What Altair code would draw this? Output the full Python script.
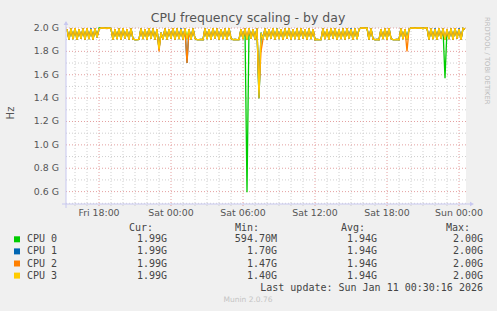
import altair as alt
import pandas as pd

# ---------------- data (MHz, 10-minute samples starting Fri 15:20) ----------------
start_hour = 15 + 20 / 60      # hours since Fri 00:00
step_hours = 10 / 60

cpu3 = [
    1990, 1900, 1996, 1904, 2000, 1900, 1990, 1910, 1996, 1900,
    2000, 1904, 1990, 1900, 1996, 1920, 1990, 2000, 2000, 1998,
    2000, 2000, 1996, 1900, 1990, 1904, 1996, 1900, 2000, 1910,
    1990, 1900, 1996, 1904, 1900, 1900, 1902, 1996, 1904, 1990,
    1900, 2000, 1910, 1996, 1900, 1990, 1820, 1960, 1904, 1996,
    1900, 1990, 1910, 2000, 1900, 1996, 1904, 1990, 1900, 1996,
    1904, 1990, 1900, 1996, 1910, 1900, 1900, 1902, 1900, 1996,
    1904, 1990, 1900, 2000, 1910, 1996, 1900, 1990, 1904, 1996,
    1900, 2000, 1910, 1900, 1902, 1900, 1900, 1990, 1904, 1996,
    1900, 2000, 1910, 1990, 1900, 1996, 1400, 1960, 1904, 1996,
    1900, 1990, 1910, 2000, 1900, 1996, 1904, 1990, 1900, 1996,
    1910, 2000, 1900, 1990, 1904, 1996, 1900, 2000, 1910, 1990,
    1900, 1996, 1904, 1990, 1900, 1902, 1900, 1900, 1996, 1904,
    1990, 1900, 2000, 1910, 1996, 1900, 1990, 1904, 1996, 1900,
    2000, 1910, 1990, 1900, 1996, 1904, 1990, 2000, 2000, 1998,
    2000, 1900, 1996, 1904, 1900, 1902, 1900, 1990, 1904, 1996,
    1900, 2000, 1910, 1900, 1900, 1902, 1900, 1996, 1904, 1990,
    1900, 1990, 2000, 2000, 1998, 2000, 2000, 2000, 1996, 2000,
    2000, 1900, 1996, 1904, 1990, 1900, 2000, 1910, 1996, 1900,
    1990, 1904, 1996, 1900, 2000, 1910, 1990, 1900, 1996, 1990,
]
cpu2 = [
    1990, 1900, 1996, 1904, 2000, 1900, 1990, 1910, 1996, 1900,
    2000, 1904, 1990, 1900, 1996, 1920, 1990, 2000, 2000, 1998,
    1996, 2000, 1996, 1900, 1990, 1904, 1996, 1900, 2000, 1910,
    1990, 1900, 1996, 1904, 1900, 1900, 1902, 1996, 1904, 1990,
    1900, 2000, 1910, 1996, 1900, 1990, 1800, 1960, 1904, 1996,
    1900, 1990, 1910, 2000, 1900, 1996, 1904, 1990, 1900, 1996,
    1700, 1990, 1900, 1996, 1910, 1900, 1900, 1902, 1900, 1996,
    1904, 1990, 1900, 2000, 1910, 1996, 1900, 1990, 1904, 1996,
    1900, 2000, 1910, 1900, 1902, 1900, 1900, 1990, 1904, 1996,
    1900, 2000, 1910, 1990, 1900, 1996, 1470, 1800, 1904, 1996,
    1900, 1990, 1910, 2000, 1900, 1990, 1904, 1990, 1900, 1996,
    1910, 2000, 1900, 1990, 1904, 1996, 1900, 2000, 1910, 1990,
    1900, 1996, 1904, 1990, 1900, 1902, 1900, 1900, 1996, 1904,
    1990, 1900, 2000, 1910, 1996, 1900, 1990, 1904, 1996, 1900,
    2000, 1910, 1990, 1900, 1996, 1904, 1990, 2000, 2000, 1998,
    2000, 1900, 1996, 1904, 1900, 1902, 1900, 1990, 1904, 1996,
    1900, 2000, 1910, 1900, 1900, 1902, 1900, 1996, 1904, 1990,
    1800, 1990, 2000, 2000, 1998, 2000, 2000, 2000, 1996, 2000,
    2000, 1900, 1996, 1904, 1990, 1900, 2000, 1910, 1996, 1900,
    1990, 1904, 1996, 1900, 2000, 1910, 1990, 1900, 1996, 1990,
]
cpu1 = [
    1990, 1900, 1996, 1904, 2000, 1900, 1990, 1910, 1996, 1900,
    2000, 1904, 2000, 1900, 1996, 1920, 1990, 2000, 2000, 1998,
    2000, 2000, 1996, 1900, 1990, 1904, 1996, 1900, 2000, 1910,
    1990, 1900, 1996, 1904, 1900, 1900, 1902, 1996, 1904, 1990,
    1900, 2000, 1910, 1996, 1900, 1990, 1820, 1960, 1904, 1996,
    1900, 1990, 1910, 2000, 1900, 1996, 1904, 2000, 1900, 1996,
    1700, 1990, 1900, 1996, 1910, 1900, 1900, 1902, 1900, 1996,
    1904, 1990, 1900, 2000, 1910, 1996, 1900, 1990, 1904, 1996,
    1900, 2000, 1910, 1900, 1902, 1900, 1900, 1990, 1904, 1996,
    1900, 2000, 1910, 1990, 1900, 1996, 1400, 1960, 1904, 1996,
    1900, 1990, 1910, 2000, 1900, 1996, 1904, 1990, 1900, 1996,
    1910, 2000, 1900, 1990, 1904, 1996, 1900, 2000, 1910, 1990,
    1900, 1996, 1904, 1990, 1900, 1902, 1900, 1900, 1996, 1904,
    1990, 1900, 2000, 1910, 1996, 1900, 1990, 1904, 1996, 1900,
    2000, 1910, 2000, 1900, 1996, 1904, 1990, 2000, 2000, 1998,
    2000, 1900, 1996, 1904, 1900, 1902, 1900, 1990, 1904, 1996,
    1900, 2000, 1910, 1900, 1900, 1902, 1900, 1996, 1904, 1990,
    1900, 1990, 2000, 2000, 1998, 2000, 2000, 2000, 1996, 2000,
    2000, 1900, 1996, 1904, 2000, 1900, 2000, 1910, 1996, 1900,
    1990, 1904, 1996, 1900, 2000, 1910, 2000, 1900, 1996, 1990,
]
cpu0 = [
    1990, 1900, 1996, 1904, 2000, 1900, 1990, 1910, 1996, 1900,
    2000, 1904, 1990, 1900, 1996, 1920, 2000, 2000, 2000, 1998,
    2000, 2000, 1996, 1900, 1990, 1904, 1996, 1900, 2000, 1910,
    1990, 1900, 1996, 1904, 1900, 1900, 1902, 2000, 1904, 1990,
    1900, 2000, 1910, 1996, 1900, 1990, 1820, 1960, 1904, 1996,
    1900, 1990, 1910, 2000, 1900, 1996, 1904, 1990, 1900, 1996,
    1904, 1990, 1900, 1996, 1910, 1900, 1900, 1902, 1900, 1996,
    1904, 1990, 1900, 2000, 1910, 1996, 1900, 1990, 1904, 1996,
    1900, 2000, 1910, 1900, 1902, 1900, 1900, 1990, 1904, 2000,
    594.7, 2000, 1910, 1990, 1900, 1996, 1400, 1960, 1904, 1996,
    1900, 1990, 1910, 2000, 1900, 1996, 1904, 1990, 1900, 1996,
    1910, 2000, 1900, 1990, 1904, 1996, 1900, 2000, 1910, 1990,
    1900, 1996, 1904, 1990, 1900, 1902, 1900, 1900, 1996, 1904,
    1990, 1900, 2000, 1910, 1996, 1900, 1990, 1904, 1996, 1900,
    2000, 1910, 1990, 1900, 1996, 1904, 1990, 2000, 2000, 1998,
    2000, 1900, 1996, 1904, 1900, 1902, 1900, 1990, 1904, 1996,
    1900, 2000, 1910, 1900, 1900, 1902, 1900, 1996, 1904, 1990,
    1900, 1990, 2000, 2000, 1998, 2000, 2000, 2000, 1996, 2000,
    2000, 1900, 1996, 1904, 1990, 1900, 2000, 1910, 1996, 1570,
    1990, 1904, 1996, 1900, 2000, 1910, 1990, 1900, 1996, 1990,
]

series_names = ["CPU 0", "CPU 1", "CPU 2", "CPU 3"]
series_values = [cpu0, cpu1, cpu2, cpu3]
cur_vals = ["1.99G", "1.99G", "1.99G", "1.99G"]
min_vals = ["594.70M", "1.70G", "1.47G", "1.40G"]
avg_vals = ["1.94G", "1.94G", "1.94G", "1.94G"]
max_vals = ["2.00G", "2.00G", "2.00G", "2.00G"]

x_tick_hours = [18, 24, 30, 36, 42, 48]
x_tick_labels = ["Fri 18:00", "Sat 00:00", "Sat 06:00", "Sat 12:00", "Sat 18:00", "Sun 00:00"]
y_major = [0.6, 0.8, 1.0, 1.2, 1.4, 1.6, 1.8, 2.0]
y_labels = ["0.6 G", "0.8 G", "1.0 G", "1.2 G", "1.4 G", "1.6 G", "1.8 G", "2.0 G"]
y_minor = [0.5, 0.7, 0.9, 1.1, 1.3, 1.5, 1.7, 1.9]
x_minor = [h for h in range(16, 49) if h % 6 != 0]

title_text = "CPU frequency scaling - by day"
last_update = "Last update: Sun Jan 11 00:30:16 2026"
version_text = "Munin 2.0.76"
side_text = "RRDTOOL / TOBI OETIKER"

# ---------------- styles ----------------
series_colors = ["#00cc00", "#0066b3", "#ff8000", "#ffcc00"]
W, H = 400, 176
PAD_L, PAD_T = 66, 28
SANS = "DejaVu Sans"
MONO = "DejaVu Sans Mono"
TXT = "#555555"
GRID_MINOR = "#cfcfcf"
GRID_MAJOR = "#e4a0a0"
AXIS_COL = "#c8c8f0"

xscale = alt.Scale(domain=[15.25, 48.5 + 5 / 60], nice=False, zero=False)
yscale = alt.Scale(domain=[0.494, 2.0], nice=False, zero=False)

# ---------------- grid ----------------
def hrule(vals, color):
    return alt.Chart(pd.DataFrame({"y": vals})).mark_rule(
        color=color, strokeDash=[1, 2], strokeWidth=1
    ).encode(y=alt.Y("y:Q", scale=yscale, axis=None), x=alt.value(0), x2=alt.value(W))

def vrule(vals, color):
    return alt.Chart(pd.DataFrame({"x": vals})).mark_rule(
        color=color, strokeDash=[1, 2], strokeWidth=1
    ).encode(x=alt.X("x:Q", scale=xscale, axis=None), y=alt.value(0), y2=alt.value(H + 2))

layers = [
    hrule(y_minor, GRID_MINOR),
    vrule(x_minor, GRID_MINOR),
    hrule(y_major, GRID_MAJOR),
    vrule(x_tick_hours, GRID_MAJOR),
]

# ---------------- series lines ----------------
for name, vals, col in zip(series_names, series_values, series_colors):
    df = pd.DataFrame({
        "t": [start_hour + i * step_hours for i in range(len(vals))],
        "v": [v / 1000 for v in vals],
    })
    layers.append(
        alt.Chart(df).mark_line(color=col, strokeWidth=1.3, strokeJoin="miter").encode(
            x=alt.X("t:Q", scale=xscale, axis=None),
            y=alt.Y("v:Q", scale=yscale, axis=None),
        )
    )

# ---------------- axes (lines + arrows) ----------------
dummy = pd.DataFrame({"a": [0]})
layers.append(alt.Chart(dummy).mark_rule(color=AXIS_COL, strokeWidth=1).encode(
    x=alt.value(-4), x2=alt.value(W + 6), y=alt.value(H)))
layers.append(alt.Chart(dummy).mark_rule(color=AXIS_COL, strokeWidth=1).encode(
    x=alt.value(0), y=alt.value(-6), y2=alt.value(H + 4)))
layers.append(alt.Chart(dummy).mark_point(shape="triangle-up", filled=True, size=22,
                                          color=AXIS_COL, opacity=1).encode(
    x=alt.value(0), y=alt.value(-5)))
layers.append(alt.Chart(dummy).mark_point(shape="triangle-right", filled=True, size=22,
                                          color=AXIS_COL, opacity=1).encode(
    x=alt.value(W + 6), y=alt.value(H)))

# ---------------- tick labels ----------------
layers.append(alt.Chart(pd.DataFrame({"y": y_major, "lab": y_labels})).mark_text(
    align="right", baseline="middle", font=SANS, fontSize=9.4, color=TXT).encode(
    y=alt.Y("y:Q", scale=yscale, axis=None), x=alt.value(-7), text="lab:N"))
layers.append(alt.Chart(pd.DataFrame({"x": x_tick_hours, "lab": x_tick_labels})).mark_text(
    align="center", baseline="middle", font=SANS, fontSize=9.4, color=TXT).encode(
    x=alt.X("x:Q", scale=xscale, axis=None), y=alt.value(H + 9), text="lab:N"))

# ---------------- titles ----------------
layers.append(alt.Chart(pd.DataFrame({"t": [title_text]})).mark_text(
    align="center", baseline="middle", font=SANS, fontSize=12.5, color=TXT).encode(
    x=alt.value(248 - PAD_L), y=alt.value(18 - PAD_T), text="t:N"))
layers.append(alt.Chart(pd.DataFrame({"t": ["Hz"]})).mark_text(
    align="center", baseline="middle", font=SANS, fontSize=10, color=TXT, angle=270).encode(
    x=alt.value(11 - PAD_L), y=alt.value(113 - PAD_T), text="t:N"))
layers.append(alt.Chart(pd.DataFrame({"t": [side_text]})).mark_text(
    align="left", baseline="middle", font=SANS, fontSize=6.8, color="#bbbbbb", angle=90).encode(
    x=alt.value(487 - PAD_L), y=alt.value(17 - PAD_T), text="t:N"))

# ---------------- legend ----------------
row_y = [239.3 + 12.1 * i - PAD_T for i in range(len(series_names))]
header_y = 227.5 - PAD_T

legend_sq = pd.DataFrame({"px": [17 - PAD_L] * 4, "py": row_y, "col": series_colors})
layers.append(alt.Chart(legend_sq).mark_square(size=36, opacity=1).encode(
    x=alt.X("px:Q", scale=None), y=alt.Y("py:Q", scale=None),
    color=alt.Color("col:N", scale=None)))

names_df = pd.DataFrame({"px": [27 - PAD_L] * 4, "py": row_y, "t": series_names})
layers.append(alt.Chart(names_df).mark_text(
    align="left", baseline="middle", font=MONO, fontSize=10, color="#444444").encode(
    x=alt.X("px:Q", scale=None), y=alt.Y("py:Q", scale=None), text="t:N"))

right_rows = []
for col_vals, xr in [(cur_vals, 167), (min_vals, 277), (avg_vals, 377), (max_vals, 483)]:
    for i, v in enumerate(col_vals):
        right_rows.append({"px": xr - PAD_L, "py": row_y[i], "t": v})
for h, xr in [("Cur:", 153), ("Min:", 259), ("Avg:", 365), ("Max:", 470)]:
    right_rows.append({"px": xr - PAD_L, "py": header_y, "t": h})
right_rows.append({"px": 483 - PAD_L, "py": 287.7 - PAD_T, "t": last_update})
layers.append(alt.Chart(pd.DataFrame(right_rows)).mark_text(
    align="right", baseline="middle", font=MONO, fontSize=10, color="#444444").encode(
    x=alt.X("px:Q", scale=None), y=alt.Y("py:Q", scale=None), text="t:N"))

layers.append(alt.Chart(pd.DataFrame({"t": [version_text]})).mark_text(
    align="center", baseline="middle", font=SANS, fontSize=7.5, color="#c4c4c4").encode(
    x=alt.value(248 - PAD_L), y=alt.value(300 - PAD_T), text="t:N"))

chart = alt.layer(*layers).properties(
    width=W, height=H,
    autosize=alt.AutoSizeParams(type="none"),
    padding={"left": PAD_L, "top": PAD_T, "right": 497 - PAD_L - W, "bottom": 311 - PAD_T - H},
    background="#f0f0f0",
).configure_view(fill="white", stroke=None)

chart.save("out.html", embed_options={"renderer": "svg", "actions": False})
